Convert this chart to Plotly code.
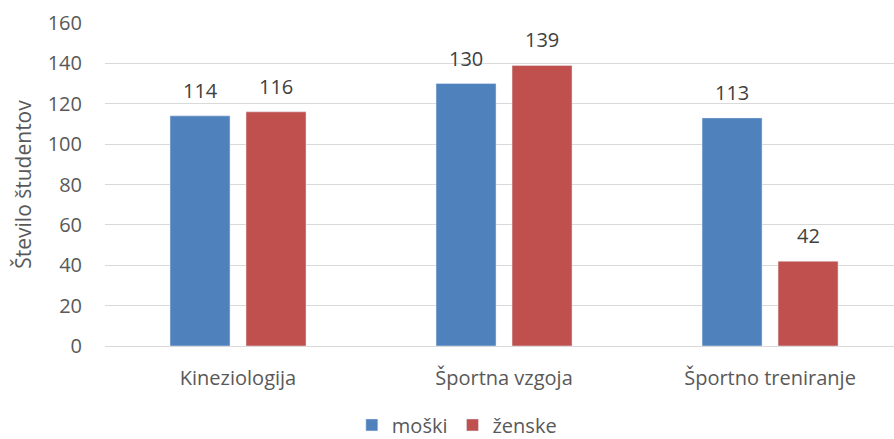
import plotly.graph_objects as go

# podatki
programi = ["Kineziologija", "Športna vzgoja", "Športno treniranje"]
moski = [114, 130, 113]
zenske = [116, 139, 42]

modra = "#4F81BD"
rdeca = "#C0504D"
siva = "#595959"

bar_w = 0.2256
px_per_cat = 266

fig = go.Figure()
fig.add_trace(go.Bar(x=programi, y=moski, name="moški",
                     marker_color=modra, width=bar_w, offset=-0.2556))
fig.add_trace(go.Bar(x=programi, y=zenske, name="ženske",
                     marker_color=rdeca, width=bar_w, offset=0.0301))

# oznake vrednosti nad stolpci
for vals, off in [(moski, -0.2556), (zenske, 0.0301)]:
    for p, v in zip(programi, vals):
        fig.add_annotation(
            x=p, y=v, text=str(v), showarrow=False,
            xshift=(off + bar_w / 2) * px_per_cat, yshift=10,
            yanchor="bottom", font=dict(size=20, color="#404040"),
        )

fig.update_layout(
    width=894, height=439,
    margin=dict(l=105, r=0, t=23, b=93),
    paper_bgcolor="white", plot_bgcolor="white",
    font=dict(family="Open Sans", size=20, color=siva),
    barmode="group",
    showlegend=True,
    legend=dict(
        orientation="h", xref="container", x=0.511, xanchor="center",
        yref="container", y=0.032, yanchor="middle",
        font=dict(size=20, color=siva),
        itemwidth=30, traceorder="normal",
    ),
)

fig.update_xaxes(
    type="category", range=[-0.5, 2.466],
    showgrid=False, showline=False, ticks="",
    ticklabelstandoff=18, automargin=False,
)
fig.update_yaxes(
    range=[0, 160], dtick=20,
    showgrid=True, gridcolor="#D9D9D9", gridwidth=1,
    zeroline=True, zerolinecolor="#D9D9D9", zerolinewidth=1,
    showline=False, ticks="", ticklabelstandoff=22, automargin=False,
    title=dict(text="Število študentov", standoff=10, font=dict(size=21, color=siva)),
)

fig.write_html("out.html", config={"displayModeBar": False},
               post_script="document.body.style.margin='0';")
